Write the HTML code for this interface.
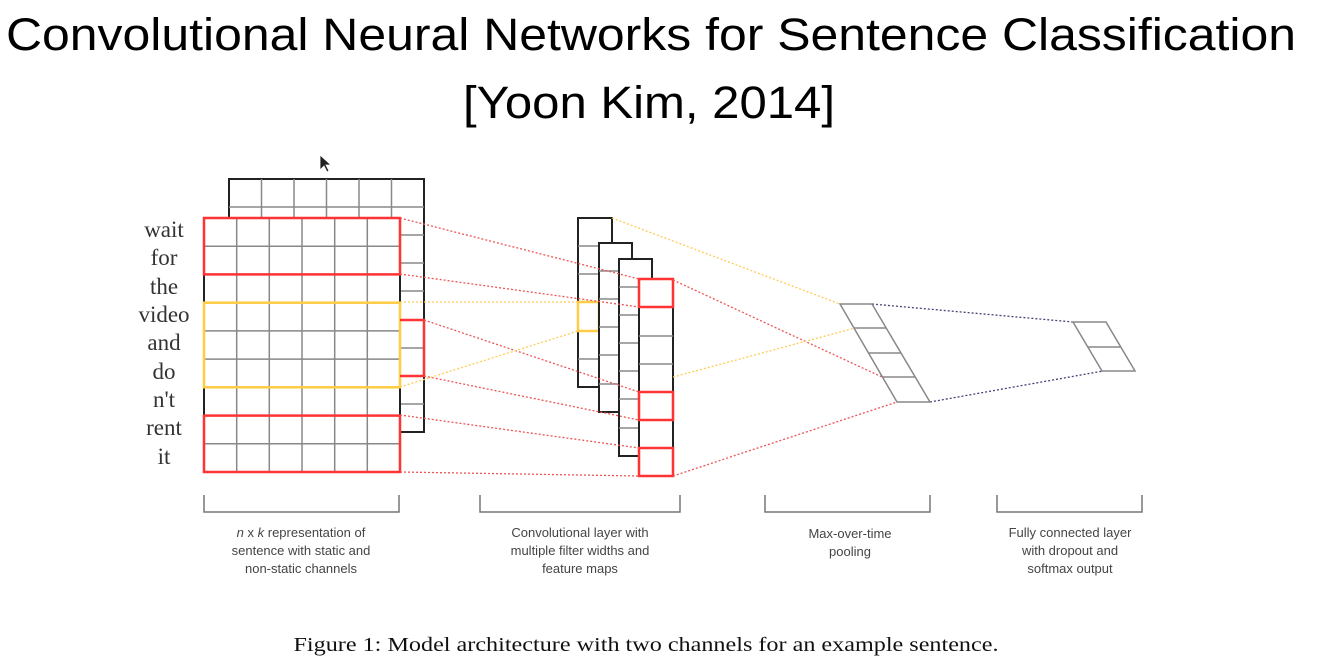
<!DOCTYPE html>
<html><head><meta charset="utf-8"><style>
html,body{margin:0;padding:0;background:#fff;width:1319px;height:662px;overflow:hidden}
svg{display:block}
.t{font-family:"Liberation Sans",sans-serif;fill:#000}
.w{font-family:"Liberation Serif",serif;font-size:23px;fill:#333;text-anchor:middle}
.l{font-family:"Liberation Sans",sans-serif;font-size:13px;fill:#444;text-anchor:middle}
.g{stroke:#888;stroke-width:1.5}
</style></head><body>
<svg width="1319" height="662" viewBox="0 0 1319 662">
<text class="t" x="651" y="50" font-size="45" text-anchor="middle" textLength="1290" lengthAdjust="spacingAndGlyphs">Convolutional Neural Networks for Sentence Classification</text>
<text class="t" x="649" y="118" font-size="45" text-anchor="middle" textLength="372" lengthAdjust="spacingAndGlyphs">[Yoon Kim, 2014]</text>
<path d="M320 155 L320 170 L324 166 L327 172 L329 171 L326 165 L331 165 Z" fill="#222" stroke="#fff" stroke-width="0.8"/>

<rect x="229" y="179" width="195" height="253" fill="#fff" stroke="#222" stroke-width="2"/>
<g class="g">
<line x1="229" y1="207" x2="424" y2="207"/>
<line x1="261.5" y1="179" x2="261.5" y2="218"/><line x1="294" y1="179" x2="294" y2="218"/><line x1="326.5" y1="179" x2="326.5" y2="218"/><line x1="359" y1="179" x2="359" y2="218"/><line x1="391.5" y1="179" x2="391.5" y2="218"/>
<line x1="400" y1="235" x2="424" y2="235"/><line x1="400" y1="263" x2="424" y2="263"/><line x1="400" y1="291" x2="424" y2="291"/><line x1="400" y1="348" x2="424" y2="348"/><line x1="400" y1="404" x2="424" y2="404"/>
</g>
<rect x="204" y="218" width="196" height="254" fill="#fff" stroke="#222" stroke-width="2"/>
<g class="g">
<line x1="236.7" y1="218" x2="236.7" y2="472"/><line x1="269.3" y1="218" x2="269.3" y2="472"/><line x1="302" y1="218" x2="302" y2="472"/><line x1="334.7" y1="218" x2="334.7" y2="472"/><line x1="367.3" y1="218" x2="367.3" y2="472"/>
<line x1="204" y1="246.2" x2="400" y2="246.2"/><line x1="204" y1="274.4" x2="400" y2="274.4"/><line x1="204" y1="302.7" x2="400" y2="302.7"/><line x1="204" y1="330.9" x2="400" y2="330.9"/><line x1="204" y1="359.1" x2="400" y2="359.1"/><line x1="204" y1="387.3" x2="400" y2="387.3"/><line x1="204" y1="415.6" x2="400" y2="415.6"/><line x1="204" y1="443.8" x2="400" y2="443.8"/>
</g>
<g fill="none" stroke-width="2.5">
<rect x="204" y="218" width="196" height="56.4" stroke="#f33"/>
<rect x="204" y="415.6" width="196" height="56.4" stroke="#f33"/>
<rect x="204" y="302.7" width="196" height="84.6" stroke="#fc4"/>
<polyline points="400,320 424,320 424,376 400,376" stroke="#f33"/>
</g>
<g class="w">
<text x="164" y="237">wait</text><text x="164" y="265">for</text><text x="164" y="294">the</text><text x="164" y="322">video</text><text x="164" y="350">and</text><text x="164" y="379">do</text><text x="164" y="407">n't</text><text x="164" y="435">rent</text><text x="164" y="464">it</text>
</g>

<rect x="578" y="218" width="34" height="169" fill="#fff" stroke="#222" stroke-width="2"/>
<g class="g"><line x1="578" y1="246" x2="612" y2="246"/><line x1="578" y1="274" x2="612" y2="274"/><line x1="578" y1="359" x2="612" y2="359"/></g>
<rect x="578" y="302" width="21" height="29" fill="none" stroke="#fc4" stroke-width="2.5"/>
<rect x="599" y="243" width="33" height="169" fill="#fff" stroke="#222" stroke-width="2"/>
<g class="g"><line x1="599" y1="271" x2="632" y2="271"/><line x1="599" y1="299" x2="632" y2="299"/><line x1="599" y1="327" x2="632" y2="327"/><line x1="599" y1="355" x2="632" y2="355"/><line x1="599" y1="384" x2="632" y2="384"/></g>
<rect x="619" y="259" width="33" height="197" fill="#fff" stroke="#222" stroke-width="2"/>
<g class="g"><line x1="619" y1="287" x2="652" y2="287"/><line x1="619" y1="315" x2="652" y2="315"/><line x1="619" y1="343" x2="652" y2="343"/><line x1="619" y1="371" x2="652" y2="371"/><line x1="619" y1="399" x2="652" y2="399"/><line x1="619" y1="428" x2="652" y2="428"/></g>
<rect x="639" y="279" width="34" height="197" fill="#fff" stroke="#222" stroke-width="2"/>
<g class="g"><line x1="639" y1="336" x2="673" y2="336"/><line x1="639" y1="364" x2="673" y2="364"/><line x1="639" y1="448" x2="673" y2="448"/></g>
<g fill="none" stroke="#f33" stroke-width="2.5">
<rect x="639" y="279" width="34" height="28"/><rect x="639" y="392" width="34" height="28"/><rect x="639" y="448" width="34" height="28"/>
</g>

<g stroke-dasharray="2,2" stroke-width="1.3" fill="none">
<g stroke="#e55">
<line x1="400" y1="218" x2="639" y2="279"/><line x1="400" y1="274" x2="639" y2="307"/><line x1="424" y1="320" x2="639" y2="392"/><line x1="424" y1="376" x2="639" y2="420"/><line x1="400" y1="415" x2="639" y2="448"/><line x1="400" y1="472" x2="639" y2="476"/>
<line x1="673" y1="280" x2="882" y2="377"/><line x1="673" y1="476" x2="897" y2="402"/>
</g>
<g stroke="#fc5">
<line x1="400" y1="302" x2="578" y2="302"/><line x1="400" y1="387" x2="578" y2="331"/><line x1="612" y1="218" x2="840" y2="304"/><line x1="673" y1="377" x2="855" y2="328"/>
</g>
<g stroke="#447">
<line x1="872" y1="304" x2="1073" y2="322"/><line x1="930" y1="402" x2="1103" y2="371"/>
</g>
</g>

<g class="g" fill="none">
<polygon points="840,304 872,304 930,402 897,402"/>
<line x1="854" y1="328" x2="886" y2="328"/><line x1="869" y1="353" x2="901" y2="353"/><line x1="883" y1="377" x2="915" y2="377"/>
<polygon points="1073,322 1106,322 1135,371 1102,371"/>
<line x1="1088" y1="347" x2="1121" y2="347"/>
</g>

<g fill="none" stroke="#777" stroke-width="1.5">
<polyline points="204,495 204,512 399,512 399,495"/>
<polyline points="480,495 480,512 680,512 680,495"/>
<polyline points="765,495 765,512 930,512 930,495"/>
<polyline points="997,495 997,512 1142,512 1142,495"/>
</g>
<g class="l">
<text x="301" y="537"><tspan font-style="italic">n</tspan> x <tspan font-style="italic">k</tspan> representation of</text>
<text x="301" y="555">sentence with static and</text>
<text x="301" y="573">non-static channels</text>
<text x="580" y="537">Convolutional layer with</text>
<text x="580" y="555">multiple filter widths and</text>
<text x="580" y="573">feature maps</text>
<text x="850" y="538">Max-over-time</text>
<text x="850" y="556">pooling</text>
<text x="1070" y="537">Fully connected layer</text>
<text x="1070" y="555">with dropout and</text>
<text x="1070" y="573">softmax output</text>
</g>
<text x="646" y="651" font-family="Liberation Serif, serif" font-size="20" fill="#111" text-anchor="middle" textLength="705" lengthAdjust="spacingAndGlyphs">Figure 1: Model architecture with two channels for an example sentence.</text>
</svg>
</body></html>
